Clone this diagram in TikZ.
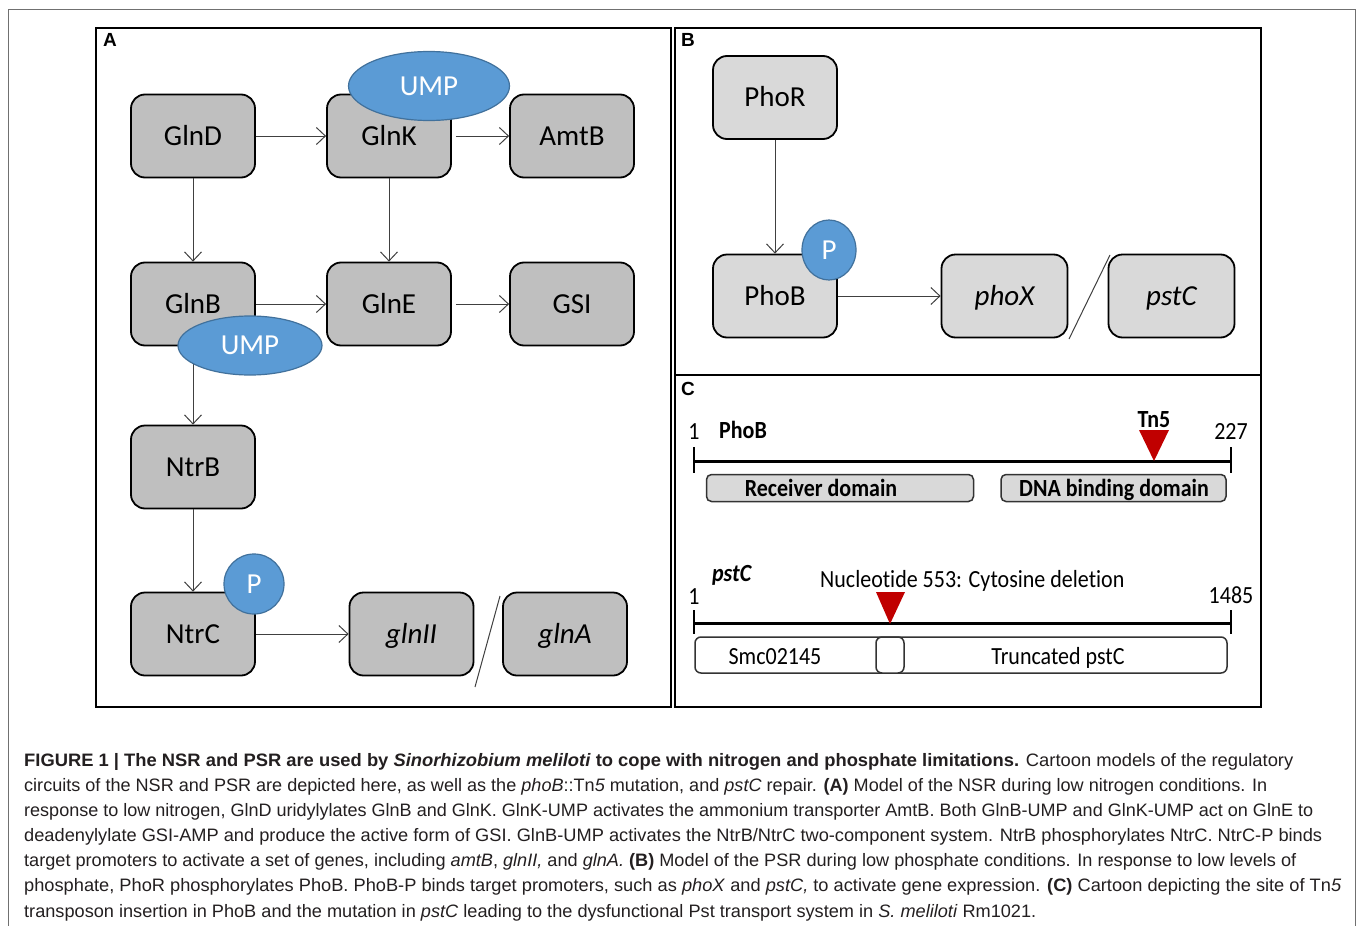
\documentclass[tikz,border=0pt]{standalone}
\usepackage{fontspec}
\setmainfont{Carlito}[Ligatures=CommonOff]
\newfontfamily\capfont{Liberation Sans}
\usetikzlibrary{arrows.meta,shapes.geometric}
\definecolor{grayA}{HTML}{BFBFBF}
\definecolor{grayB}{HTML}{D9D9D9}
\definecolor{blueF}{HTML}{5B9BD5}
\definecolor{blueD}{HTML}{41719C}
\definecolor{redT}{HTML}{C00000}
\definecolor{lineC}{HTML}{404040}
\definecolor{frameC}{HTML}{707070}
\definecolor{capC}{HTML}{231F20}
\newcommand{\capline}[2]{\resizebox{#1pt}{\height}{#2}}
\newcommand{\tallC}[1]{\scalebox{1}[1.12]{#1}}
\begin{document}
\begin{tikzpicture}[x=1pt,y=-1pt,
 boxA/.style={draw=black, line width=1.8pt, rounded corners=14pt, fill=grayA, minimum width=124pt, minimum height=83pt, inner sep=0pt, font=\fontsize{29}{34}\selectfont, text height=21pt, text depth=2.3pt},
 boxB/.style={boxA, fill=grayB},
 blob/.style={ellipse, draw=blueD, line width=1.2pt, fill=blueF, text=white, inner sep=0pt, font=\fontsize{29}{34}\selectfont, text height=21pt, text depth=2.3pt},
 conn/.style={draw=lineC, line width=1pt, -{Straight Barb[length=9pt,width=17pt,line width=1pt]}},
 panel/.style={draw=black, line width=1.8pt},
 plabel/.style={font=\capfont\bfseries\fontsize{19}{21}\selectfont, inner sep=0pt, anchor=north west},
 ctext/.style={font=\fontsize{22}{26}\selectfont, inner sep=0pt},
 cbold/.style={font=\bfseries\fontsize{22}{26}\selectfont, inner sep=0pt},
 dom/.style={draw=black!80, line width=1.5pt, rounded corners=5pt, fill=grayB, inner sep=0pt},
 gene/.style={draw=black!80, line width=1.5pt, rounded corners=6pt, fill=white, inner sep=0pt},
 captxt/.style={font=\capfont\fontsize{18}{22}\selectfont, text=capC, inner sep=0pt, anchor=base west},
 slash/.style={draw=lineC, line width=1pt}
]
\useasboundingbox (0,0) rectangle (1358,926);
\fill[white] (0,0) rectangle (1358,926);
\draw[frameC, line width=1pt] (8,926) -- (8,9) -- (1355,9) -- (1355,926);

% panels
\draw[panel] (96,28) rectangle (671,707);
\draw[panel] (675,28) rectangle (1261,375);
\draw[panel] (675,375) rectangle (1261,707);
\node[plabel] (labA) at (103,33) {A};
\node[plabel] (labB) at (681,33) {B};
\node[plabel] (labC) at (681,382) {C};

% ---------- panel A ----------
\node[boxA] (glnd) at (193,136) {GlnD};
\node[boxA] (glnk) at (389,136) {GlnK};
\node[boxA] (amtb) at (572,136) {AmtB};
\node[boxA] (glnb) at (193,304) {GlnB};
\node[boxA] (glne) at (389,304) {GlnE};
\node[boxA] (gsi)  at (572,304) {GSI};
\node[boxA] (ntrb) at (193,467) {NtrB};
\node[boxA] (ntrc) at (193,634) {NtrC};
\node[boxA] (glnii) at (411.5,634) {\itshape glnII};
\node[boxA] (glna) at (565,634) {\itshape glnA};

\draw[conn] (glnd) -- (glnk);
\draw[conn, shorten <=4pt] (glnk) -- (amtb);
\draw[conn] (glnd) -- (glnb);
\draw[conn] (glnk) -- (glne);
\draw[conn] (glnb) -- (glne);
\draw[conn, shorten <=4pt] (glne) -- (gsi);
\draw[conn] (glnb) -- (ntrb);
\draw[conn] (ntrb) -- (ntrc);
\draw[conn] (ntrc) -- (glnii);
\coordinate (sa1) at (475,687);
\coordinate (sa2) at (500,596);
\draw[slash] (sa1) -- (sa2);

\node[blob, minimum width=161pt, minimum height=69pt] (ump1) at (429,86) {UMP};
\node[blob, minimum width=144pt, minimum height=59pt] (ump2) at (250,345.5) {UMP};
\node[blob, minimum width=60pt, minimum height=60pt] (p1) at (254,584) {P};

% ---------- panel B ----------
\node[boxB] (phor) at (775,97.5) {PhoR};
\node[boxB] (phob) at (775,296) {PhoB};
\node[boxB, minimum width=126pt] (phox) at (1004.5,296) {\itshape phoX};
\node[boxB, minimum width=126pt] (pstc) at (1171.5,296) {\itshape pstC};
\draw[conn] (phor) -- (phob);
\draw[conn] (phob) -- (phox);
\coordinate (sb1) at (1069,339);
\coordinate (sb2) at (1110,255);
\draw[slash] (sb1) -- (sb2);
\node[blob, minimum width=54pt, minimum height=60pt] (p2) at (829,250) {P};

% ---------- panel C ----------
\draw[line width=3pt] (694,461) -- (1231,461);
\draw[line width=2.2pt] (694,447) -- (694,473);
\draw[line width=2.2pt] (1231,447) -- (1231,473);
\node[ctext, anchor=base] (one1) at (694,439) {\tallC{1}};
\node[cbold, anchor=base west] (phobt) at (719,438) {\tallC{PhoB}};
\node[ctext, anchor=base] (n227) at (1231,439) {\tallC{227}};
\node[cbold, anchor=base] (tn5) at (1154,427) {\tallC{Tn5}};
\fill[redT] (1139,430) -- (1169,430) -- (1154,461) -- cycle;
\node[dom, minimum width=267pt, minimum height=27pt] (rec) at (840,488) {};
\node[dom, minimum width=225pt, minimum height=27pt] (dna) at (1113.5,488) {};
\node[cbold, anchor=base] (rect) at (821,496) {\tallC{Receiver domain}};
\node[cbold, anchor=base] (dnat) at (1114,496) {\tallC{DNA binding domain}};

\draw[line width=3pt] (694,623) -- (1231,623);
\draw[line width=2.2pt] (694,610) -- (694,634);
\draw[line width=2.2pt] (1231,610) -- (1231,634);
\node[cbold, anchor=base west] (pstct) at (712,581) {\tallC{\itshape pstC}};
\node[ctext, anchor=base] (one2) at (694,604) {\tallC{1}};
\node[ctext, anchor=base] (n1485) at (1231,603) {\tallC{1485}};
\node[ctext, anchor=base west] (nuc) at (820,587) {\tallC{Nucleotide 553: Cytosine deletion}};
\fill[redT] (876,592) -- (905,592) -- (890,624) -- cycle;
\node[gene, minimum width=532pt, minimum height=36pt] (smcbox) at (961,655) {};
\node[gene, minimum width=28pt, minimum height=36pt] (delbox) at (890,655) {};
\node[ctext, anchor=base] (smc) at (775,664) {\tallC{Smc02145}};
\node[ctext, anchor=base] (trunc) at (1058,664) {\tallC{Truncated pstC}};

% ---------- caption ----------
\node[captxt] (cap1) at (24,766) {\capline{1269}{\textbf{FIGURE 1 | The NSR and PSR are used by \textit{Sinorhizobium meliloti} to cope with nitrogen and phosphate limitations.} Cartoon models of the regulatory}};
\node[captxt] (cap2) at (24,791.2) {\capline{1243}{circuits of the NSR and PSR are depicted here, as well as the \textit{phoB}::Tn\textit{5} mutation, and \textit{pstC} repair. \textbf{(A)} Model of the NSR during low nitrogen conditions. In}};
\node[captxt] (cap3) at (24,816.3) {\capline{1289}{response to low nitrogen, GlnD uridylylates GlnB and GlnK. GlnK-UMP activates the ammonium transporter AmtB. Both GlnB-UMP and GlnK-UMP act on GlnE to}};
\node[captxt] (cap4) at (24,841.5) {\capline{1298}{deadenylylate GSI-AMP and produce the active form of GSI. GlnB-UMP activates the NtrB/NtrC two-component system. NtrB phosphorylates NtrC. NtrC-P binds}};
\node[captxt] (cap5) at (24,866.7) {\capline{1272}{target promoters to activate a set of genes, including \textit{amtB}, \textit{glnII,} and \textit{glnA.} \textbf{(B)} Model of the PSR during low phosphate conditions. In response to low levels of}};
\node[captxt] (cap6) at (24,891.8) {\capline{1317}{phosphate, PhoR phosphorylates PhoB. PhoB-P binds target promoters, such as \textit{phoX} and \textit{pstC,} to activate gene expression. \textbf{(C)} Cartoon depicting the site of Tn\textit{5}}};
\node[captxt] (cap7) at (24,917) {\capline{1012}{transposon insertion in PhoB and the mutation in \textit{pstC} leading to the dysfunctional Pst transport system in \textit{S. meliloti} Rm1021.}};
\end{tikzpicture}
\end{document}
